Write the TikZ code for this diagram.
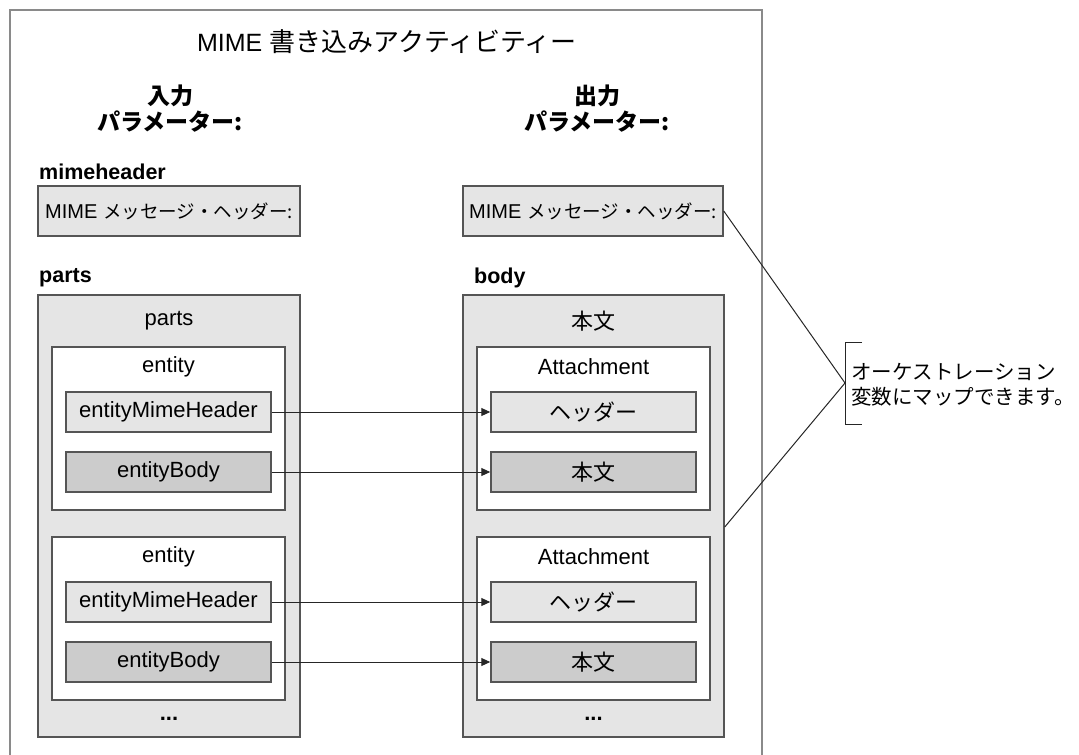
\documentclass[tikz,border=0pt]{standalone}
\usepackage{fontspec}
\setmainfont{Liberation Sans}
\newfontfamily\jp{Noto Sans CJK JP}
\usetikzlibrary{arrows.meta}
\definecolor{boxgray}{HTML}{E5E5E5}
\definecolor{bodygray}{HTML}{CCCCCC}
\definecolor{edgegray}{HTML}{555555}
\definecolor{framegray}{HTML}{8A8A8A}
\begin{document}
\begin{tikzpicture}[x=1pt,y=-1pt,
  txt/.style={font=\fontsize{22}{26}\selectfont, inner sep=0pt},
  lbl/.style={font=\bfseries\fontsize{21.5}{25}\selectfont, inner sep=0pt, anchor=west},
  hdr/.style={font=\bfseries\jp\fontsize{23}{26}\selectfont, inner sep=0pt, align=center},
  basebox/.style={draw=edgegray, line width=1.5pt, inner sep=0pt},
  bigbox/.style={basebox, fill=boxgray, minimum width=262, minimum height=442},
  entbox/.style={basebox, fill=white, minimum width=233, minimum height=163},
  hbox/.style={basebox, fill=boxgray, minimum width=205, minimum height=40, font=\fontsize{22}{26}\selectfont},
  bbox/.style={basebox, fill=bodygray, minimum width=205, minimum height=40, font=\fontsize{22}{26}\selectfont},
  mimebox/.style={basebox, fill=boxgray, minimum height=50, font=\fontsize{20}{24}\selectfont},
  dots/.style={font=\bfseries\fontsize{22}{26}\selectfont, inner sep=0pt},
  conn/.style={draw=black!85, line width=1pt},
  arr/.style={conn, -{Triangle[length=9pt,width=8pt]}}
]
\useasboundingbox (0,0) rectangle (1079,755);
% outer frame
\draw[framegray, line width=1.8pt] (10,10) rectangle (762,790);
\node[font=\fontsize{25}{30}\selectfont, inner sep=0pt] (title) at (387,42) {MIME {\jp\fontsize{26}{30}\selectfont 書き込みアクティビティー}};
\node[hdr] (inhdr) at (170,109) {入力\\パラメーター:};
\node[hdr] (outhdr) at (597,109) {出力\\パラメーター:};
% mimeheader
\node[lbl] (mimelbl) at (39,172) {mimeheader};
\node[mimebox, minimum width=262] (lmime) at (169,211) {MIME {\jp\fontsize{18.5}{24}\selectfont メッセージ・ヘッダー:}};
\node[mimebox, minimum width=260] (rmime) at (593,211) {MIME {\jp\fontsize{18.5}{24}\selectfont メッセージ・ヘッダー:}};
% big boxes
\node[lbl] (partslbl) at (39,278) {parts};
\node[lbl] (bodylbl) at (474,278) {body};
\node[bigbox] (lbig) at (169,516) {};
\node[bigbox, minimum width=261] (rbig) at (593.5,516) {};
\node[txt] (lbigt) at (169,321) {parts};
\node[txt] (rbigt) at (593.5,321) {\jp 本文};
% left entities
\node[entbox] (lent1) at (168.5,428.5) {};
\node[txt] (lent1t) at (168.5,367) {entity};
\node[hbox] (lemh1) at (168.5,412) {entityMimeHeader};
\node[bbox] (lbody1) at (168.5,472) {entityBody};
\node[entbox] (lent2) at (168.5,618.5) {};
\node[txt] (lent2t) at (168.5,557) {entity};
\node[hbox] (lemh2) at (168.5,602) {entityMimeHeader};
\node[bbox] (lbody2) at (168.5,662) {entityBody};
\node[dots] (ldots) at (169,719) {...};
% right attachments
\node[entbox] (ratt1) at (593.5,428.5) {};
\node[txt] (ratt1t) at (593.5,367) {Attachment};
\node[hbox] (rhdr1) at (593.5,412) {\jp ヘッダー};
\node[bbox] (rbody1) at (593.5,472) {\jp 本文};
\node[entbox] (ratt2) at (593.5,618.5) {};
\node[txt] (ratt2t) at (593.5,557) {Attachment};
\node[hbox] (rhdr2) at (593.5,602) {\jp ヘッダー};
\node[bbox] (rbody2) at (593.5,662) {\jp 本文};
\node[dots] (rdots) at (593.5,719) {...};
% arrows
\draw[arr] (lemh1.east) -- (rhdr1.west);
\draw[arr] (lbody1.east) -- (rbody1.west);
\draw[arr] (lemh2.east) -- (rhdr2.west);
\draw[arr] (lbody2.east) -- (rbody2.west);
% bracket note
\coordinate (brk) at (845,383);
\draw[conn] (862,342) -- (845,342) -- (845,424) -- (862,424);
\node[anchor=west, align=left, inner sep=0pt, font=\jp\fontsize{20.5}{25}\selectfont] (note) at (851,385) {オーケストレーション\\変数にマップできます。};
\draw[conn] (rmime.east) -- (brk);
\draw[conn] ([yshift=-11pt]rbig.east) -- (brk);
\end{tikzpicture}
\end{document}
